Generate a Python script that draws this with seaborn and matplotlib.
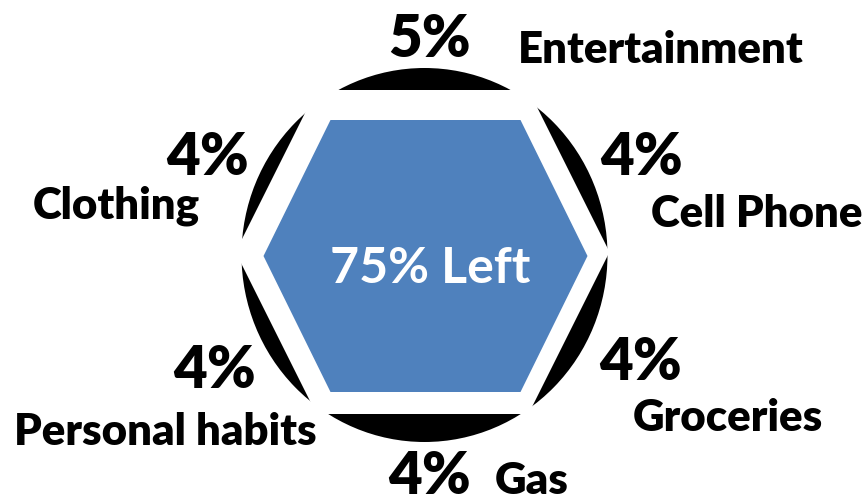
import matplotlib
matplotlib.use("Agg")
import matplotlib.pyplot as plt
from matplotlib.patches import Ellipse, Polygon
import numpy as np
import seaborn as sns

# ---- data ----
categories = ["Entertainment", "Cell Phone", "Groceries", "Gas", "Personal habits", "Clothing"]
percents = [5, 4, 4, 4, 4, 4]
remaining = 75
center_label = f"{remaining}% Left"

# ---- layout (text anchors in pixel space: pct center-x, pct baseline, label center-x, label baseline) ----
layout = {
    "Entertainment":   (430, 57, 661, 63),
    "Cell Phone":      (642, 175, 757, 227),
    "Groceries":       (641, 380, 728, 431),
    "Gas":             (430, 494, 532, 494),
    "Personal habits": (215, 388, 165, 445),
    "Clothing":        (208, 175, 116, 218),
}

sns.set_theme(style="white")
plt.rcParams["font.family"] = ["Lato", "DejaVu Sans"]

W, H = 866, 498
fig = plt.figure(figsize=(W / 100, H / 100), dpi=100)
ax = fig.add_axes([0, 0, 1, 1])
ax.set_xlim(0, W)
ax.set_ylim(H, 0)
ax.axis("off")
fig.patch.set_facecolor("white")


def hexagon(cx, cy, half_w, half_top, half_h):
    return np.array([
        [cx - half_top, cy - half_h],
        [cx + half_top, cy - half_h],
        [cx + half_w, cy],
        [cx + half_top, cy + half_h],
        [cx - half_top, cy + half_h],
        [cx - half_w, cy],
    ])


cx, cy = 424.5, 255
ax.add_patch(Ellipse((cx, cy), 2 * 183, 2 * 187, facecolor="black", edgecolor="none", zorder=1))
ax.add_patch(Polygon(hexagon(cx - 2, cy - 3, 187, 106, 162), closed=True, facecolor="white", edgecolor="none", zorder=2))
ax.add_patch(Polygon(hexagon(cx + 1, cy + 1, 162, 95, 136), closed=True, facecolor="#4F81BD", edgecolor="none", zorder=3))

ax.text(430, 283, center_label, ha="center", va="baseline", color="white",
        fontsize=36, fontweight="bold", zorder=4)

for cat, pct in zip(categories, percents):
    px, py, lx, ly = layout[cat]
    ax.text(px, py, f"{pct}%", ha="center", va="baseline", color="black",
            fontsize=42, fontweight="heavy", zorder=4)
    ax.text(lx, ly, cat, ha="center", va="baseline", color="black",
            fontsize=31.5, fontweight="heavy", zorder=4)

fig.savefig("out.png", dpi=100, facecolor="white")
